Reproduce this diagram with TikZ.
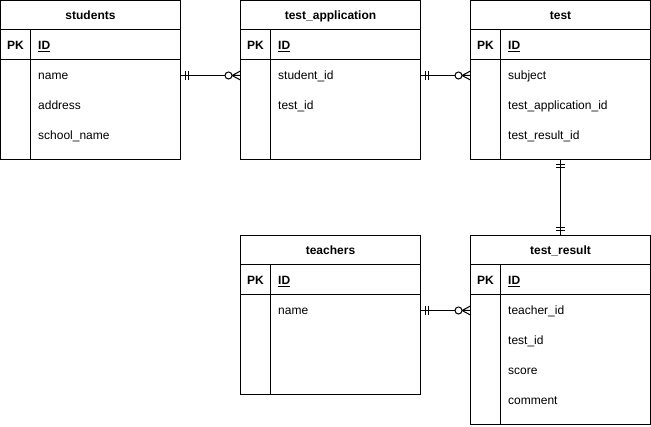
\documentclass[tikz,border=0pt]{standalone}
\usepackage{fontspec}
\setmainfont{Liberation Sans}
\usetikzlibrary{calc}
\tikzset{
  tbl/.style={draw, line width=1pt, minimum width=180pt, anchor=north west, inner sep=0pt, outer sep=0pt},
  ttl/.style={font=\fontsize{12}{14}\selectfont\bfseries, inner sep=0pt, anchor=base},
  pkl/.style={font=\fontsize{12}{14}\selectfont\bfseries, inner sep=0pt, anchor=base},
  fld/.style={font=\fontsize{12}{14}\selectfont, anchor=base west, inner sep=0pt},
  conn/.style={line width=1pt},
  erone/.pic={\draw[line width=1pt] (5,-4.5) -- (5,4.5) (8,-4.5) -- (8,4.5);},
  ermany/.pic={\draw[line width=1pt] (0,-4.5) -- (8.5,0) -- (0,4.5) (0,0) -- (8.5,0);
               \draw[line width=1pt, fill=white] (12,0) circle (3.5);}
}
\newcommand\ertbl[5]{%
  \node[tbl, minimum height=#3pt] (#1) at #2 {};
  \draw[line width=1pt] ([yshift=-29.5pt]#1.north west) -- ([yshift=-29.5pt]#1.north east);
  \draw[line width=1pt] ([yshift=-59.5pt]#1.north west) -- ([yshift=-59.5pt]#1.north east);
  \draw[line width=1pt] ([xshift=30pt,yshift=-29.5pt]#1.north west) -- ([xshift=30pt]#1.south west);
  \node[ttl] (#1-title) at ([yshift=-19.3pt]#1.north) {#4};
  \node[pkl] (#1-pk) at ([xshift=15pt,yshift=-49.3pt]#1.north west) {PK};
  \node[fld, font=\fontsize{12}{14}\selectfont\bfseries] (#1-id) at ([xshift=37.5pt,yshift=-49.3pt]#1.north west) {\underline{ID}};
  \foreach \f [count=\i] in {#5} {
    \node[fld] (#1-f\i) at ([xshift=37.5pt,yshift={(-49.3-30*\i)*1pt}]#1.north west) {\f};
  }%
}
\begin{document}
\begin{tikzpicture}[x=1pt,y=-1pt]
\useasboundingbox[fill=white] (0,0) rectangle (651,427);
\ertbl{students}{(0.5,0.5)}{159.5}{students}{name,address,school\_name}
\ertbl{tapp}{(240.5,0.5)}{159.5}{test\_application}{student\_id,test\_id}
\ertbl{test}{(470.5,0.5)}{159.5}{test}{subject,test\_application\_id,test\_result\_id}
\ertbl{teachers}{(240.5,235.5)}{159.5}{teachers}{name}
\ertbl{tres}{(470.5,235.5)}{189.5}{test\_result}{teacher\_id,test\_id,score,comment}

\coordinate (s-out) at ([yshift=-75pt]students.north east);
\coordinate (ta-in) at ([yshift=-75pt]tapp.north west);
\coordinate (ta-out) at ([yshift=-75pt]tapp.north east);
\coordinate (t-in) at ([yshift=-75pt]test.north west);
\coordinate (te-out) at ([yshift=-75pt]teachers.north east);
\coordinate (tr-in) at ([yshift=-75pt]tres.north west);

\draw[conn] (s-out) -- (ta-in);
\pic at (s-out) {erone};
\pic[rotate=180] at (ta-in) {ermany};

\draw[conn] (ta-out) -- (t-in);
\pic at (ta-out) {erone};
\pic[rotate=180] at (t-in) {ermany};

\draw[conn] (test.south) -- (tres.north);
\pic[rotate=-90] at (test.south) {erone};
\pic[rotate=90] at (tres.north) {erone};

\draw[conn] (te-out) -- (tr-in);
\pic at (te-out) {erone};
\pic[rotate=180] at (tr-in) {ermany};
\end{tikzpicture}
\end{document}
